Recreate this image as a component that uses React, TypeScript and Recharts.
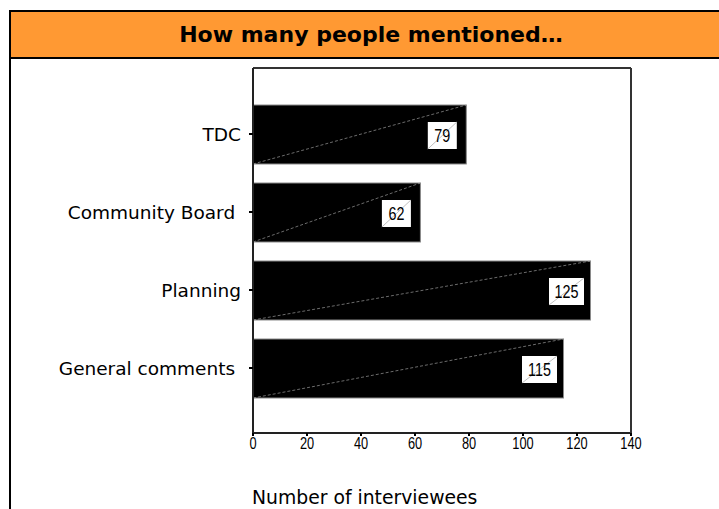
import React from 'react';
import { BarChart, Bar, XAxis, YAxis, LabelList } from 'recharts';

const categories = ['TDC', 'Community Board ', 'Planning', 'General comments '];
const counts = [79, 62, 125, 115];
const xTicks = [0, 20, 40, 60, 80, 100, 120, 140];

const data = categories.map((name, i) => ({ name, value: counts[i] }));

const NARROW = "'Liberation Sans', Arial, sans-serif";

const BarShape = (props: any) => {
  const { x, y, width, height } = props;
  return (
    <g>
      <rect x={x} y={y} width={width} height={height} fill="#000" stroke="#8a8a8a" strokeWidth={1} />
      <line x1={x} y1={y + height} x2={x + width} y2={y} stroke="#9a9a9a" strokeWidth={0.7} strokeDasharray="3 2" />
    </g>
  );
};

const ValueLabel = (props: any) => {
  const { x, y, width, height, value } = props;
  const s = String(value);
  const w = s.length >= 3 ? 35 : 29;
  const h = 27;
  const cx = x + width - 24;
  const cy = y + height / 2 + 1;
  const bx = cx - w / 2;
  const by = cy - h / 2;
  return (
    <g>
      <rect x={bx} y={by} width={w} height={h} fill="#fff" />
      <line x1={bx} y1={by + h} x2={bx + w} y2={by} stroke="#b0b0b0" strokeWidth={0.8} />
      <text transform={`translate(${cx},${cy}) scale(0.82,1)`} x={0} y={0} dy="0.36em" textAnchor="middle" fontFamily={NARROW} fontSize={17.5} fill="#000">
        {s}
      </text>
    </g>
  );
};

const XTick = (props: any) => {
  const { x, y, payload } = props;
  return (
    <text transform={`translate(${x},${y}) scale(0.8,1)`} x={0} y={0} dy="0.72em" textAnchor="middle" fontFamily={NARROW} fontSize={16} fill="#000">
      {payload.value}
    </text>
  );
};

const YTick = (props: any) => {
  const { x, y, payload } = props;
  return (
    <text x={x} y={y} dy="0.36em" textAnchor="end" fontFamily="'DejaVu Sans', sans-serif" fontSize={18.5} fill="#000" style={{ whiteSpace: 'pre' }}>
      {payload.value}
    </text>
  );
};

export default function App() {
  return (
    <div style={{ position: 'fixed', left: 0, top: 0, width: 719, height: 509, overflow: 'hidden', background: '#fff' }}>
      <div style={{ position: 'absolute', left: 9, top: 10, width: 760, height: 560, borderLeft: '2px solid #000', borderTop: '2px solid #000' }} />
      <div
        style={{
          position: 'absolute', left: 11, top: 12, width: 720, height: 45,
          background: '#FF9933', borderBottom: '2px solid #000',
          display: 'flex', alignItems: 'center', justifyContent: 'center',
          fontFamily: "'DejaVu Sans', sans-serif", fontWeight: 'bold', fontSize: 22, color: '#000',
        }}
      >
        How many people mentioned…
      </div>
      <div style={{ position: 'absolute', left: 0, top: 0 }}>
        <BarChart
          width={719}
          height={509}
          data={data}
          layout="vertical"
          margin={{ top: 67, right: 87, bottom: 46, left: 13 }}
        >
          <XAxis
            type="number"
            domain={[0, 140]}
            ticks={xTicks}
            interval={0}
            height={30}
            axisLine={{ stroke: '#222', strokeWidth: 2 }}
            tickLine={{ stroke: '#000', strokeWidth: 2 }}
            tickSize={3}
            tickMargin={1}
            tick={<XTick />}
          />
          <XAxis
            xAxisId="top"
            orientation="top"
            type="number"
            domain={[0, 140]}
            height={1}
            tick={false}
            tickLine={false}
            axisLine={{ stroke: '#333', strokeWidth: 2 }}
          />
          <YAxis
            type="category"
            dataKey="name"
            width={240}
            padding={{ top: 27, bottom: 26 }}
            axisLine={{ stroke: '#222', strokeWidth: 2 }}
            tickLine={{ stroke: '#000', strokeWidth: 2 }}
            tickSize={4}
            tickMargin={8}
            tick={<YTick />}
          />
          <YAxis
            yAxisId="right"
            orientation="right"
            type="category"
            dataKey="name"
            width={1}
            tick={false}
            tickLine={false}
            axisLine={{ stroke: '#333', strokeWidth: 2 }}
          />
          <Bar dataKey="value" barSize={59} shape={<BarShape />} isAnimationActive={false}>
            <LabelList dataKey="value" content={<ValueLabel />} />
          </Bar>
        </BarChart>
      </div>
      <div
        style={{
          position: 'absolute', left: 252, top: 488, lineHeight: '20px', whiteSpace: 'nowrap',
          fontFamily: "'DejaVu Sans', sans-serif", fontSize: 18.8, color: '#000',
        }}
      >
        Number of interviewees
      </div>
    </div>
  );
}
